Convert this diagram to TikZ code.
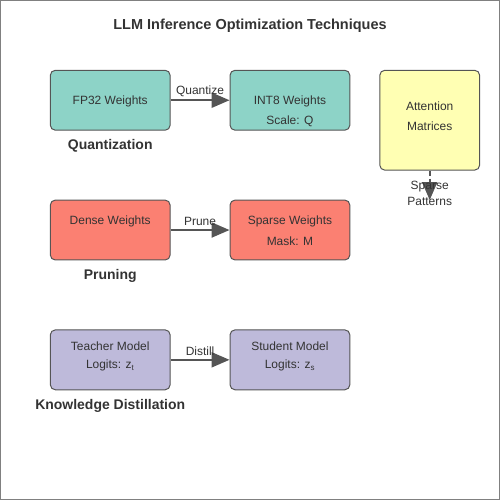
\documentclass[tikz,border=0pt]{standalone}
\usepackage{fontspec}
\setmainfont{Liberation Sans}
\usetikzlibrary{arrows.meta}
\definecolor{qcol}{HTML}{8DD3C7}
\definecolor{pcol}{HTML}{FB8072}
\definecolor{dcol}{HTML}{BEBADA}
\definecolor{acol}{HTML}{FFFFB3}
\definecolor{edge}{HTML}{555555}
\definecolor{ink}{HTML}{333333}
\tikzset{
  wbox/.style={draw=edge, line width=1pt, rounded corners=5pt, minimum width=120pt, minimum height=60pt, inner sep=0pt},
  txt/.style={text=ink, font=\fontsize{12}{14}\selectfont, inner sep=0pt},
  head/.style={text=ink, font=\fontsize{14}{16}\selectfont\bfseries, inner sep=0pt},
  arr/.style={draw=edge, line width=2pt, -{Triangle[length=18pt,width=15pt]}},
}
\begin{document}
\begin{tikzpicture}[x=1pt, y=-1pt]
        \draw[gray, line width=0.8pt] (0,0) rectangle (500,500);

        \node[text=ink, font=\fontsize{14.5}{17}\selectfont\bfseries] (title) at (250,25) {LLM Inference Optimization Techniques};

        % quantization
        \node[wbox, fill=qcol] (fp32) at (110,100) {};
        \node[wbox, fill=qcol] (int8) at (290,100) {};
        \node[txt] (fp32t) at (110,101) {FP32 Weights};
        \node[txt] (int8t) at (290,101) {INT8 Weights};
        \node[txt] (int8s) at (290,121) {Scale: Q};
        \node[head] (quant) at (110,146) {Quantization};
        \draw[arr] (fp32) -- (int8);
        \node[txt] (qlab) at (200,91) {Quantize};

        % attention
        \node[wbox, fill=acol, minimum width=100pt, minimum height=100pt] (attn) at (430,120) {};
        \node[txt] (attn1) at (430,106) {Attention};
        \node[txt] (attn2) at (430,126) {Matrices};
        \coordinate (sp) at (430,200);
        \draw[arr, dashed, dash pattern=on 5pt off 3pt] (attn) -- (sp);
        \node[txt] (sp1) at (430,186) {Sparse};
        \node[txt] (sp2) at (430,201) {Patterns};

        % pruning
        \node[wbox, fill=pcol] (dense) at (110,230) {};
        \node[wbox, fill=pcol] (sparse) at (290,230) {};
        \node[txt] (denset) at (110,221) {Dense Weights};
        \node[txt] (sparset) at (290,221) {Sparse Weights};
        \node[txt] (sparsem) at (290,241) {Mask: M};
        \node[head] (prune) at (110,276) {Pruning};
        \draw[arr] (dense) -- (sparse);
        \node[txt] (plab) at (200,221) {Prune};

        % distillation
        \node[wbox, fill=dcol] (teacher) at (110,360) {};
        \node[wbox, fill=dcol] (student) at (290,360) {};
        \node[txt] (teachert) at (110,346) {Teacher Model};
        \node[txt] (teacherl) at (110,366) {Logits: z\textsubscript{t}};
        \node[txt] (studentt) at (290,346) {Student Model};
        \node[txt] (studentl) at (290,366) {Logits: z\textsubscript{s}};
        \node[head] (distill) at (110,406) {Knowledge Distillation};
        \draw[arr] (teacher) -- (student);
        \node[txt] (dlab) at (200,351) {Distill};
\end{tikzpicture}
\end{document}
